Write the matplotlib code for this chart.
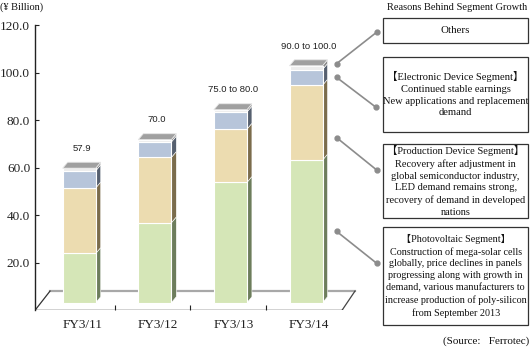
import matplotlib
matplotlib.use("Agg")
import matplotlib.pyplot as plt
from matplotlib.patches import Rectangle, Polygon
from matplotlib.lines import Line2D

# --- data (¥ billion) ---
years = ["FY3/11", "FY3/12", "FY3/13", "FY3/14"]
totals = ["57.9", "70.0", "75.0 to 80.0", "90.0 to 100.0"]
photovoltaic = [20.7, 33.6, 50.6, 60.0]
production = [27.6, 27.5, 22.4, 31.5]
electronic = [7.2, 6.5, 7.2, 6.6]
others = [1.1, 1.0, 1.0, 1.6]
yticks = [20, 40, 60, 80, 100, 120]

box_texts = [
    "Others",
    "【Electronic Device Segment】\nContinued stable earnings\n"
    "New applications and replacement\ndemand",
    "【Production Device Segment】\nRecovery after adjustment in\n"
    "global semiconductor industry,\nLED demand remains strong,\n"
    "recovery of demand in developed\nnations",
    "【Photovoltaic Segment】\nConstruction of mega-solar cells\n"
    "globally, price declines in panels\nprogressing along with growth in\n"
    "demand, various manufacturers to\nincrease production of poly-silicon\n"
    "from September 2013",
]

# --- style ---
segments = [photovoltaic, production, electronic, others]
front_cols = ["#d5e6b7", "#ecdcb0", "#b7c5da", "#ededed"]
side_cols = ["#6d7d5c", "#7b6c4c", "#56606f", "#8a8a8a"]
top_col = "#a0a0a0"
SERIF = ["Liberation Serif", "Noto Sans CJK JP"]
BW, DX, DY, FLOOR = 0.437, 0.066, 2.5, 3.2

W, H = 530, 350
fig = plt.figure(figsize=(W / 100, H / 100), dpi=100)
fig.patch.set_facecolor("white")


def fpx(x, y):
    return (x / W, 1 - y / H)


ax = fig.add_axes([35 / W, 1 - 310.3 / H, (360 - 35) / W, (310.3 - 25.1) / H])
ax.set_xlim(-0.585, 3.714)
ax.set_ylim(0, 120)
ax.patch.set_alpha(0)
for s in ("top", "right", "bottom"):
    ax.spines[s].set_visible(False)
ax.spines["left"].set_color("#222222")
ax.spines["left"].set_linewidth(1.0)

ax.set_yticks(yticks)
ax.set_yticklabels([f"{v:.1f}" for v in yticks], family=SERIF, fontsize=9.5)
ax.tick_params(axis="y", direction="in", length=3, width=0.8, pad=3.5, colors="#222222")

xs = list(range(len(years)))
ax.set_xticks([i + 0.04 for i in xs])
ax.set_xticklabels(years, family=SERIF, fontsize=9.5)
ax.set_xticks([i + 0.47 for i in xs[:-1]], minor=True)
ax.tick_params(axis="x", which="major", length=0, pad=6, colors="#222222")
ax.tick_params(axis="x", which="minor", direction="in", length=3.5, width=0.8, color="#222222")

# floor of the 3d box
ax.add_line(Line2D([-0.386, 3.648], [8.1, 8.1], color="#a8a8a8", lw=1.6, zorder=1))
ax.add_line(Line2D([-0.585, -0.386], [0, 8.1], color="#333333", lw=0.9, zorder=1))
ax.add_line(Line2D([3.476, 3.648], [0, 8.1], color="#444444", lw=0.9, zorder=1))
ax.add_line(Line2D([-0.585, 3.476], [0, 0], color="#222222", lw=1.0, zorder=3))

# stacked pseudo-3d columns
tops = []
for i in xs:
    b = FLOOR
    l, r = i - BW / 2, i + BW / 2
    for seg, fc, sc in zip(segments, front_cols, side_cols):
        h = seg[i]
        ax.add_patch(Polygon([(r, b), (r + DX, b + DY), (r + DX, b + h + DY), (r, b + h)],
                             closed=True, fc=sc, ec="white", lw=0.4, zorder=2))
        ax.add_patch(Rectangle((l, b), BW, h, fc=fc, ec="white", lw=0.8, zorder=2))
        b += h
    ax.add_patch(Polygon([(l, b), (l + DX, b + DY), (r + DX, b + DY), (r, b)],
                         closed=True, fc=top_col, ec="#e6e6e6", lw=0.6, zorder=2))
    tops.append(b)
    ax.text(i + 0.03, b + DY + 5.8, totals[i], ha="center", va="center",
            fontsize=6.8, family="Liberation Sans", color="#222222")

# leader lines from the last column to the boxes
last = xs[-1]
cum = FLOOR
anchors = []
for seg, frac in zip(segments, [0.5, 0.3, 0.5, None]):
    h = seg[last]
    if frac is not None:
        anchors.append(cum + frac * h)
    cum += h
anchors.append(cum + 0.35 * DY)
# order to match boxes (others, electronic, production, photovoltaic)
anchors = [anchors[3], anchors[2], anchors[1], anchors[0]]
right_ends = [(377.3, 31.7), (376.0, 107.3), (376.7, 170.0), (376.7, 263.3)]
x_left = last + BW / 2 + DX + 0.12
to_fig = ax.transData + fig.transFigure.inverted()
for ya, (rx, ry) in zip(anchors, right_ends):
    p0 = to_fig.transform((x_left, ya))
    p1 = fpx(rx, ry)
    fig.add_artist(Line2D([p0[0], p1[0]], [p0[1], p1[1]], transform=fig.transFigure,
                          color="#8c8c8c", lw=1.2, marker="o", markersize=3.5,
                          markerfacecolor="#8c8c8c", markeredgecolor="#8c8c8c"))

# text boxes
box_rows = [(18.3, 43.3, 7.8), (56.7, 131.7, 7.6), (144.0, 218.0, 7.5), (226.7, 325.0, 7.25)]
bx0, bx1 = 383.0, 528.3
for txt, (t, btm, fs) in zip(box_texts, box_rows):
    x0, y0 = fpx(bx0, btm)
    fig.add_artist(Rectangle((x0, y0), (bx1 - bx0) / W, (btm - t) / H,
                             transform=fig.transFigure, fill=False,
                             ec="#333333", lw=0.9))
    cx, cy = fpx((bx0 + bx1) / 2, (t + btm) / 2)
    fig.text(cx, cy, txt, ha="center", va="center", fontsize=fs,
             family=SERIF, linespacing=1.38, color="#111111")

fig.text(*fpx(0, 7), "(¥ Billion)", ha="left", va="center", fontsize=7.5,
         family=SERIF, color="#111111")
fig.text(*fpx(456.7, 7), "Reasons Behind Segment Growth", ha="center", va="center",
         fontsize=7.5, family=SERIF, color="#111111")
fig.text(*fpx(529, 341), "(Source:   Ferrotec)", ha="right", va="center",
         fontsize=8, family=SERIF, color="#111111")

fig.savefig("out.png", dpi=100)
